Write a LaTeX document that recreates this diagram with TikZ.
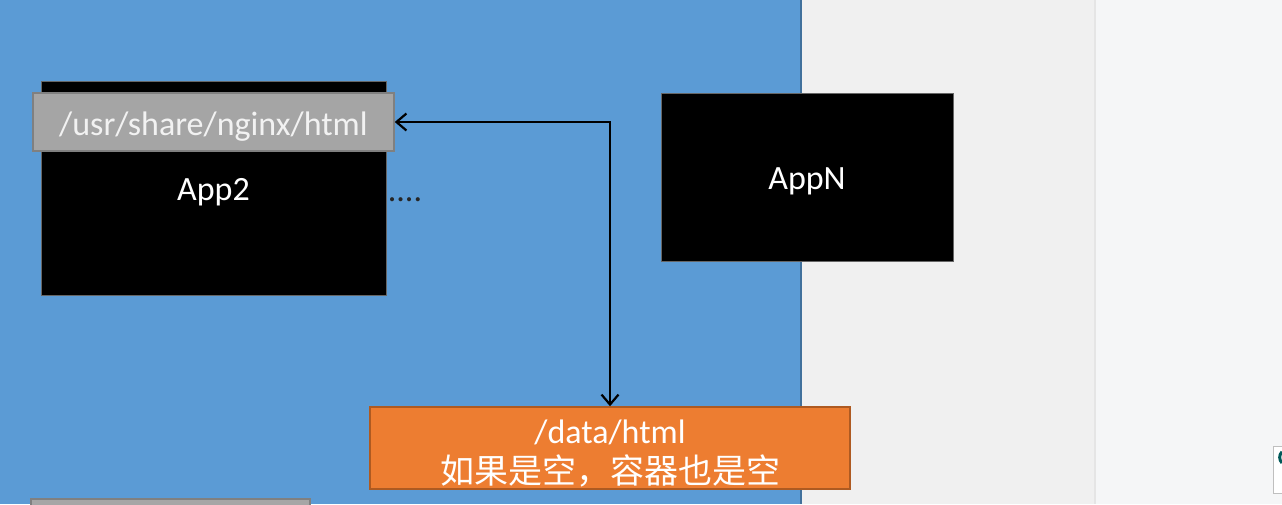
\documentclass[tikz,border=0pt]{standalone}
\usepackage{fontspec}
\setmainfont{Carlito}
\newfontfamily\cjk{Noto Sans CJK SC}
\usetikzlibrary{arrows.meta}
\definecolor{slideblue}{HTML}{5B9BD5}
\definecolor{slideedge}{HTML}{41719C}
\definecolor{pathgray}{HTML}{A5A5A5}
\definecolor{dataorange}{HTML}{ED7D31}
\definecolor{dataedge}{HTML}{AE5A21}
\definecolor{panelgray}{HTML}{F0F0F0}
\definecolor{panelwhite}{HTML}{F5F6F7}
\tikzset{
	bigtext/.style={font=\fontsize{34}{40}\selectfont},
	appbox/.style={bigtext,fill=black,draw=black!60,text=white,text height=30pt},
	pathbox/.style={bigtext,fill=pathgray,draw=black!50,line width=1.5pt,text=white!95!black,text height=32pt},
	databox/.style={bigtext,fill=dataorange,draw=dataedge,line width=1.5pt,text=white,align=center,text height=74pt,inner ysep=0pt},
	mount/.style={{Straight Barb[length=10,width=17]}-{Straight Barb[length=10,width=17]},line width=2.2pt}
}
\begin{document}
\begin{tikzpicture}[x=1pt,y=-1pt]
		\clip (0,0) rectangle (1282,504);
		\fill[color=panelgray] (801,0) rectangle (1095,504);
		\fill[color=panelwhite] (1095,0) rectangle (1282,504);
		\draw[color=black!10,line width=2pt] (1095,0) -- (1095,504);
		\fill[color=slideblue] (0,0) rectangle (801,504);
		\draw[color=slideedge,line width=1.5pt] (801,0) -- (801,504);
		\draw[color=black!50,fill=black!35,line width=1.5pt] (31,499) rectangle (310,520);
		\draw[color=black!25,fill=white] (1273,446) rectangle (1292,493);
		\draw[color=teal!70!black,line width=3pt] (1282,463) arc[radius=8,start angle=135,end angle=225];
		\node[appbox,minimum width=345,minimum height=214] (app2) at (213.5,188.5) {App2};
		\node[pathbox,minimum width=361,minimum height=58] (nginx) at (213.5,122) {/usr/share/nginx/html};
		\node[bigtext,text=black!85] (dots) at (405,200) {....};
		\node[appbox,minimum width=292,minimum height=168] (appN) at (807,177) {AppN};
		\node[databox,minimum width=480,minimum height=82] (data) at (610,448) {/data/html\\{\cjk 如果是空，容器也是空}};
		\draw[mount] (nginx.east) -| (data.north);
	\end{tikzpicture}
\end{document}
